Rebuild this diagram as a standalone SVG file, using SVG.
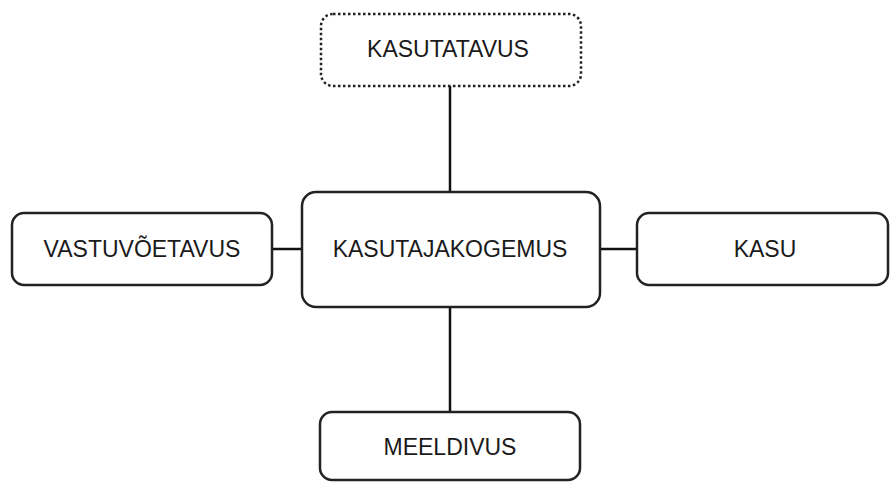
<svg xmlns="http://www.w3.org/2000/svg" width="890" height="482" viewBox="0 0 890 482">
<style>
.box{fill:#fff;stroke:#222;stroke-width:2.5}
.dot{stroke-dasharray:2.5 2.5}
.lbl{font-family:"Liberation Sans",Arial,sans-serif;font-size:23px;fill:#1a1a1a;text-anchor:middle}
.con{stroke:#111;stroke-width:2.5;fill:none}
</style>
<rect width="890" height="482" fill="#fff"/>
<g id="connectors">
<line class="con" x1="450" y1="86" x2="450" y2="192"/>
<line class="con" x1="272" y1="249" x2="302" y2="249"/>
<line class="con" x1="600" y1="249" x2="637" y2="249"/>
<line class="con" x1="450" y1="307" x2="450" y2="412"/>
</g>
<g id="kasutatavus">
<rect class="box dot" x="321" y="14" width="260" height="72" rx="12"/>
<text class="lbl" x="448" y="57">KASUTATAVUS</text>
</g>
<g id="kasutajakogemus">
<rect class="box" x="302" y="192" width="298" height="115" rx="14"/>
<text class="lbl" x="450" y="257">KASUTAJAKOGEMUS</text>
</g>
<g id="vastuvoetavus">
<rect class="box" x="12" y="213" width="260" height="72" rx="12"/>
<text class="lbl" x="142" y="257">VASTUVÕETAVUS</text>
</g>
<g id="kasu">
<rect class="box" x="637" y="213" width="251" height="72" rx="12"/>
<text class="lbl" x="765" y="257">KASU</text>
</g>
<g id="meeldivus">
<rect class="box" x="320" y="412" width="260" height="68" rx="12"/>
<text class="lbl" x="450" y="455">MEELDIVUS</text>
</g>
</svg>
